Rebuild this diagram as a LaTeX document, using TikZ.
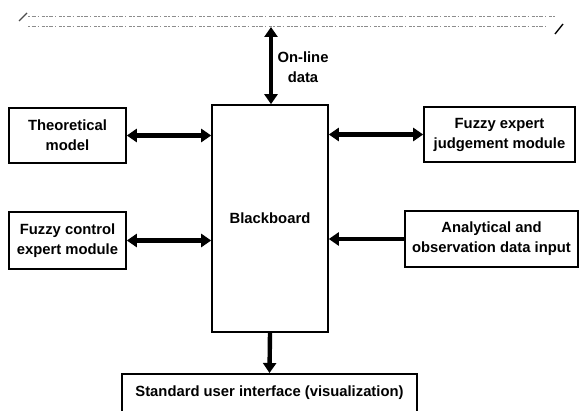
\documentclass[tikz,border=0pt]{standalone}
\usepackage{fontspec}
\setmainfont{Liberation Sans}
\usetikzlibrary{arrows.meta}
\begin{document}
\begin{tikzpicture}[x=1pt,y=-1pt,
  box/.style={draw=black, line width=1.6pt, rectangle, inner sep=0pt, align=center,
    font=\bfseries\fontsize{14.8}{20}\selectfont},
  lbl/.style={inner sep=0pt, align=center, font=\bfseries\fontsize{14.8}{20}\selectfont},
  bigarrow/.style={line width=4.4pt, draw=black},
  tip/.style={-{Triangle[length=10pt,width=13pt]}},
  dtip/.style={{Triangle[length=10pt,width=13pt]}-{Triangle[length=10pt,width=13pt]}},
  scrib/.style={draw=black!45, line width=1pt,
    dash pattern=on 2pt off 1.5pt on 4pt off 2pt on 1pt off 3pt on 3pt off 1pt}
]
\useasboundingbox[fill=white] (0,0) rectangle (581,411);

% faint garbled text lines at the top (scanned break)
\coordinate (l1a) at (28,17);
\coordinate (l1b) at (556,17);
\coordinate (l2a) at (28,27);
\coordinate (l2b) at (548,27);
\draw[scrib] (l1a) -- (l1b);
\draw[scrib] (l2a) -- (l2b);
\coordinate (s1a) at (19,21);
\coordinate (s1b) at (27,13);
\coordinate (s2a) at (555,34);
\coordinate (s2b) at (563,24);
\draw[black!70, line width=1.2pt] (s1a) -- (s1b);
\draw[black, line width=1.4pt] (s2a) -- (s2b);

% nodes
\node[box, minimum width=116pt, minimum height=227pt] (bb) at (270,218.5) {Blackboard};
\node[box, minimum width=117pt, minimum height=55pt] (theo) at (67.5,135.5) {Theoretical\\model};
\node[box, minimum width=151pt, minimum height=55pt] (fexp) at (499.5,134.5) {Fuzzy expert\\judgement module};
\node[box, minimum width=117pt, minimum height=57pt] (fctl) at (67.5,240.5) {Fuzzy control\\expert module};
\node[box, minimum width=173pt, minimum height=56pt] (anal) at (491.5,239) {Analytical and\\observation data input};
\node[box, minimum width=295pt, minimum height=60pt, anchor=north] (std) at (269.5,373) {};
\node[lbl] (stdtxt) at (269.5,393) {Standard user interface (visualization)};
\node[lbl] (online) at (303,67) {On-line\\data};
\coordinate (src) at (271,27);

% connectors
\draw[bigarrow, dtip] (src) -- (src |- bb.north);
\draw[bigarrow, dtip] (theo.east) -- (theo.east -| bb.west);
\draw[bigarrow, dtip] (fexp.west -| bb.east) -- (fexp.west);
\draw[bigarrow, dtip] (fctl.east) -- (fctl.east -| bb.west);
\draw[bigarrow, tip] (anal.west) -- (anal.west -| bb.east);
\draw[bigarrow, tip] (bb.south) -- (std.north);
\end{tikzpicture}
\end{document}
